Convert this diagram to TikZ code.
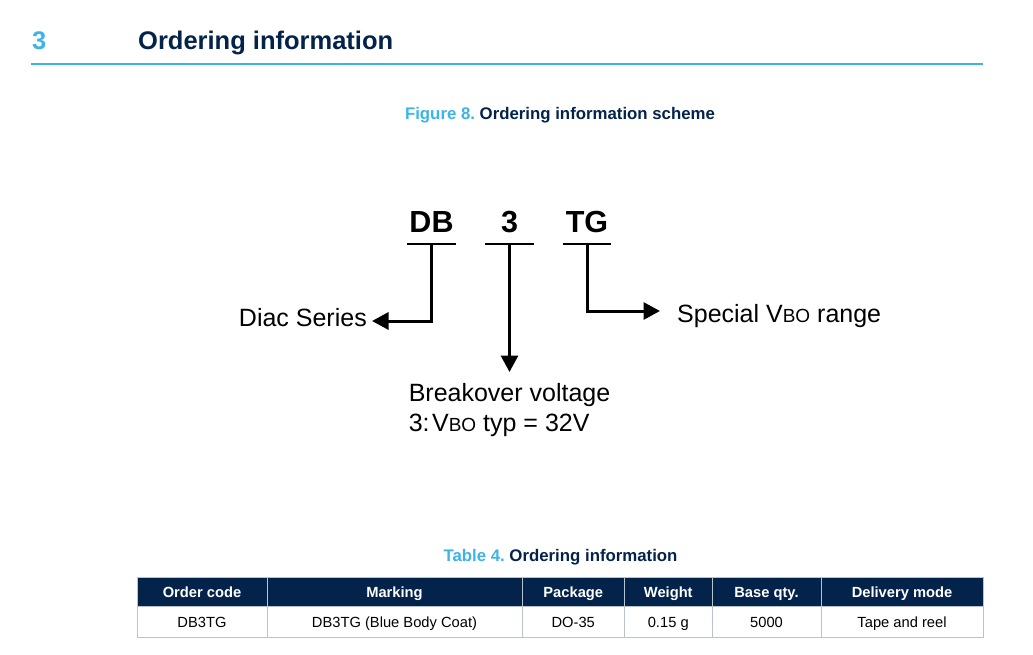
\documentclass[tikz,border=0pt]{standalone}
\usepackage{fontspec}
\setmainfont{Liberation Sans}
\usetikzlibrary{arrows.meta,positioning}
\definecolor{stnavy}{HTML}{03234B}
\definecolor{stblue}{HTML}{3CB4E6}
\definecolor{stgrey}{HTML}{B9C3CD}
\newcommand{\vbo}{V{\fontsize{19}{19}\selectfont BO}}
\frenchspacing

\begin{document}
\begin{tikzpicture}[x=1pt,y=-1pt,
  sectitle/.style={anchor=base west,inner sep=0pt,font=\fontsize{25.5}{30}\selectfont\bfseries},
  capt/.style={anchor=base,inner sep=0pt,text=stnavy,font=\fontsize{16.8}{20}\selectfont\bfseries},
  partcode/.style={anchor=base,inner xsep=0pt,inner ysep=11pt,minimum width=48pt,text depth=0pt,font=\fontsize{30.5}{36}\selectfont\bfseries},
  lbl/.style={inner xsep=5pt,font=\fontsize{25}{30}\selectfont},
  side/.style={lbl,text height=18pt,text depth=6.5pt},
  hcell/.style={draw=stgrey,line width=1pt,fill=stnavy,text=white,minimum height=29.7pt,inner sep=0pt,text height=10.6pt,text depth=0pt,font=\fontsize{14.7}{17}\selectfont\bfseries},
  bcell/.style={draw=stgrey,line width=1pt,minimum height=30.3pt,inner sep=0pt,text height=10.6pt,text depth=0pt,font=\fontsize{14.7}{17}\selectfont},
  uline/.style={line width=2.5pt},
  arr/.style={-{Triangle[length=16.5pt,width=17pt]},line width=3pt}]
\useasboundingbox (0,0) rectangle (1033,655);
\node[sectitle,text=stblue](secnum) at (32,50){3};
\node[sectitle,text=stnavy](sechead) at (138,50){Ordering information};
\draw[stblue,line width=2pt] (31,64.5) -- (983,64.5);
\node[capt](figcap) at (560,120){\textcolor{stblue}{Figure 8.} Ordering information scheme};
\node[partcode](db) at (431.5,233){DB};
\node[partcode](three) at (509.5,233){3};
\node[partcode](tg) at (587,233){TG};
\foreach \n in {db,three,tg} \draw[uline] (\n.south west) -- (\n.south east);
\node[side,anchor=east](diac) at (372,321){Diac Series};
\node[lbl,anchor=north,align=left,inner ysep=11pt](brk) at (509.5,372){Breakover voltage\\3:\kern2.5pt\vbo{} typ = 32V};
\node[side,anchor=west,inner xsep=17pt](special) at (660,317){Special \vbo{} range};
\draw[arr](db.south) |- (diac.east);
\draw[arr](three.south) -- (brk.north);
\draw[arr](tg.south) |- ([yshift=6pt]special.west);
\node[capt](tblcap) at (560.5,561){\textcolor{stblue}{Table 4.} Ordering information};
\foreach \l/\r/\head/\body [count=\i] in {137/267/Order code/DB3TG, 267/522/Marking/DB3TG (Blue Body Coat), 522/624.5/Package/DO-35, 624.5/712/Weight/0.15 g, 712/821/Base qty./5000, 821/983/Delivery mode/Tape and reel}{
  \node[hcell,minimum width={\r-\l}](h\i) at ({(\l+\r)/2},591.85){\head};
  \node[bcell,minimum width={\r-\l}](b\i) at ({(\l+\r)/2},621.85){\body};
}
\end{tikzpicture}
\end{document}
